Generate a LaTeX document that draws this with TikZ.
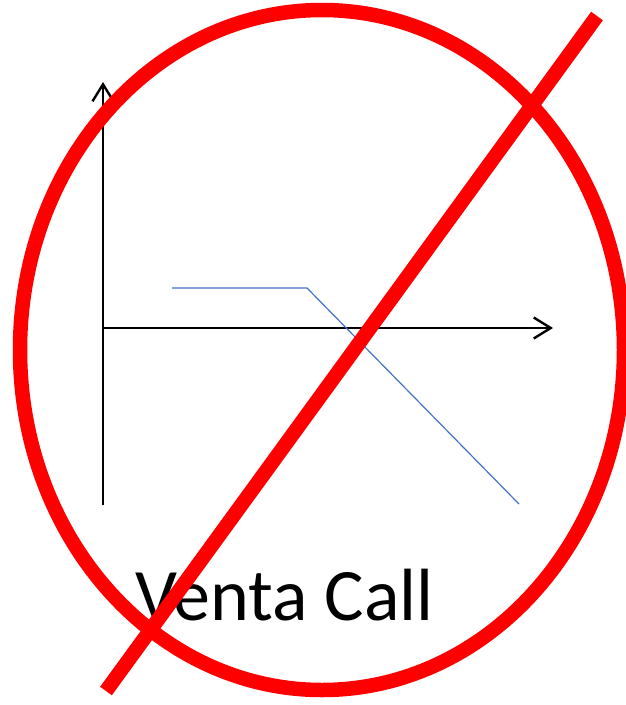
\documentclass[tikz,border=0pt]{standalone}
\usepackage{fontspec}
\setmainfont{Carlito}
\usetikzlibrary{arrows.meta}
\definecolor{payoff}{RGB}{68,114,196}
\definecolor{banred}{RGB}{255,0,0}
\begin{document}
\begin{tikzpicture}[x=1pt,y=-1pt,
  axis/.style={line width=2.4pt,-{Straight Barb[length=17pt,width=21pt,line width=2.4pt]}},
  payline/.style={line width=1.2pt,payoff},
  ban/.style={line width=14.5pt,banred}]
\useasboundingbox (0,0) rectangle (626,705);
\coordinate (origin) at (103,328);
\coordinate (ybot) at (103,505);
\coordinate (ytop) at (103,82);
\coordinate (xend) at (553,328);
\coordinate (p1) at (172,288);
\coordinate (p2) at (307,288);
\coordinate (p3) at (519,504);
\coordinate (s1) at (106,691);
\coordinate (s2) at (597,16);
\draw[axis] (ybot) -- (ytop);
\draw[axis] (origin) -- (xend);
\draw[payline] (p1) -- (p2) -- (p3);
\node[anchor=base,font=\fontsize{74}{82}\selectfont,inner sep=0pt] (label) at (284.5,620) {Venta Call};
\draw[ban] (322,350) ellipse [x radius=302, y radius=340];
\draw[ban] (s1) -- (s2);
\end{tikzpicture}
\end{document}
